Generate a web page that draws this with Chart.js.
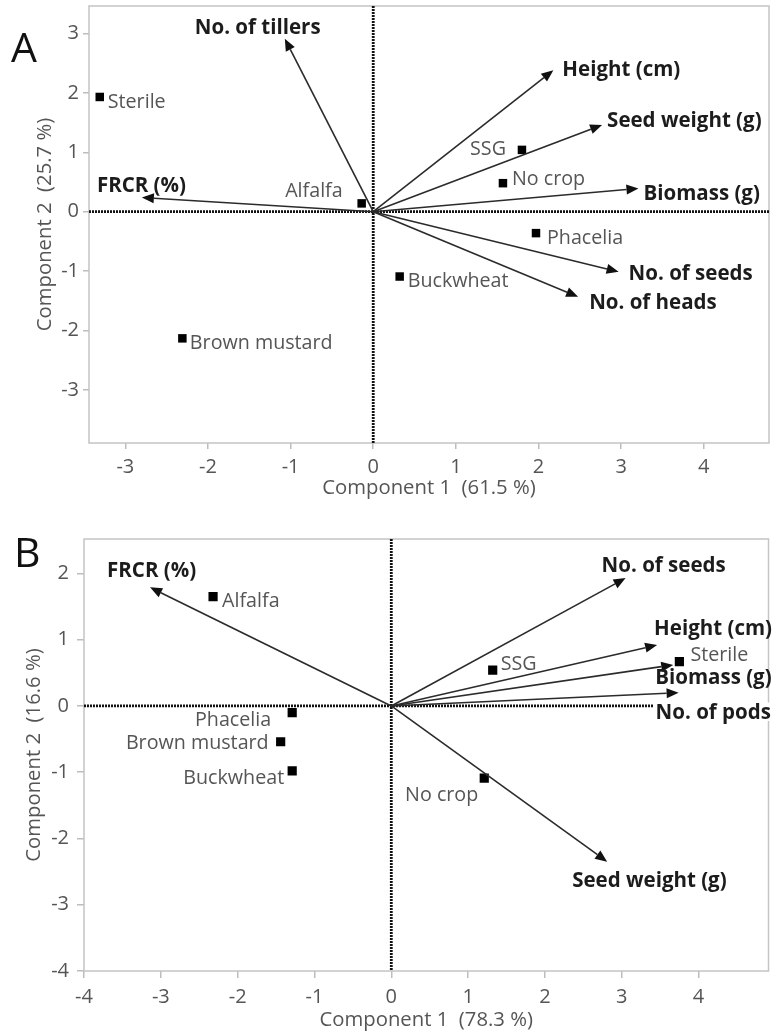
<!DOCTYPE html>
<html>
<head>
<meta charset="utf-8">
<script src="https://cdn.jsdelivr.net/npm/chart.js@4.4.1/dist/chart.umd.min.js"></script>
<style>
  html, body { margin: 0; padding: 0; background: #fff; }
  body { width: 775px; height: 1036px; position: relative; overflow: hidden; }
  .panel { position: absolute; left: 0; width: 775px; }
  #wrapA { top: 0; height: 515px; }
  #wrapB { top: 515px; height: 521px; }
  canvas { display: block; }
</style>
</head>
<body>
<div class="panel" id="wrapA"><canvas id="chartA" width="775" height="515"></canvas></div>
<div class="panel" id="wrapB"><canvas id="chartB" width="775" height="521"></canvas></div>
<script>
// ---- Panel A: cereal traits ----
const cropsA  = ['Sterile', 'Alfalfa', 'SSG', 'No crop', 'Phacelia', 'Buckwheat', 'Brown mustard'];
const pc1A    = [-3.31, -0.14, 1.80, 1.57, 1.97, 0.32, -2.31];
const pc2A    = [ 1.93,  0.14, 1.04, 0.48, -0.36, -1.09, -2.13];
const traitsA = ['No. of tillers', 'FRCR (%)', 'Height (cm)', 'Seed weight (g)', 'Biomass (g)', 'No. of seeds', 'No. of heads'];
const load1A  = [-1.07, -2.80, 2.18, 2.77, 3.21, 2.97, 2.48];
const load2A  = [ 2.91,  0.24, 2.38, 1.46, 0.39, -1.01, -1.43];
const xTicksA = [-3, -2, -1, 0, 1, 2, 3, 4];
const yTicksA = [-3, -2, -1, 0, 1, 2, 3];

// ---- Panel B: legume traits ----
const cropsB  = ['Alfalfa', 'Phacelia', 'Brown mustard', 'Buckwheat', 'SSG', 'Sterile', 'No crop'];
const pc1B    = [-2.32, -1.29, -1.44, -1.29, 1.32, 3.75, 1.21];
const pc2B    = [ 1.65, -0.10, -0.54, -0.98, 0.54, 0.67, -1.09];
const traitsB = ['FRCR (%)', 'No. of seeds', 'Height (cm)', 'Biomass (g)', 'No. of pods', 'Seed weight (g)'];
const load1B  = [-3.14, 3.05, 3.46, 3.67, 3.74, 2.81];
const load2B  = [ 1.79, 1.93, 0.92, 0.62, 0.20, -2.35];
const xTicksB = [-4, -3, -2, -1, 0, 1, 2, 3, 4];
const yTicksB = [-4, -3, -2, -1, 0, 1, 2];

// Label placement: [dx, dy, align] in pixels from the marker / arrow tip
const crpLabelPosA = [[8, 4, 'left'], [-19, -13, 'right'], [-16, -2, 'right'], [9, -5, 'left'], [11, 4, 'left'], [8, 3.5, 'left'], [7.5, 3.5, 'left']];
const trtLabelPosA = [[-90, -12, 'left'], [-45, -13, 'left'], [9, -2, 'left'], [5, -5, 'left'], [5, 4, 'left'], [10, 1, 'left'], [11, 5, 'left']];
const crpLabelPosB = [[9, 3, 'left'], [-21, 6, 'right'], [-12, 0, 'right'], [-8, 6, 'right'], [8, -7, 'left'], [11, -8, 'left'], [-6, 16, 'right']];
const trtLabelPosB = [[-43, -18, 'left'], [-24, -13, 'left'], [-3, -17, 'left'], [-18, 12, 'left'], [-23, 19, 'left'], [-35, 18, 'left']];

const FAMILY = "'Open Sans', 'Noto Sans', sans-serif";
const LABEL_SIZE = 19.7;
const BOLD_SIZE = 20.5;
const TICK_SIZE = 20;
const TITLE_SIZE = 20.3;

function drawArrow(ctx, x0, y0, x1, y1) {
  const a = Math.atan2(y1 - y0, x1 - x0);
  const L = 12, W = 5;
  const bx = x1 - L * Math.cos(a), by = y1 - L * Math.sin(a);
  ctx.beginPath();
  ctx.moveTo(x0, y0);
  ctx.lineTo(bx, by);
  ctx.stroke();
  ctx.beginPath();
  ctx.moveTo(x1, y1);
  ctx.lineTo(bx - W * Math.sin(a), by + W * Math.cos(a));
  ctx.lineTo(bx + W * Math.sin(a), by - W * Math.cos(a));
  ctx.closePath();
  ctx.fill();
}

function drawLabel(ctx, text, x, y, align, bold, zeroY, rightEdge) {
  const size = bold ? BOLD_SIZE : LABEL_SIZE;
  ctx.font = (bold ? 'bold ' : '') + size + 'px ' + FAMILY;
  ctx.textAlign = align;
  ctx.textBaseline = 'alphabetic';
  const base = y + size * 0.36;
  const w = ctx.measureText(text).width;
  const left = align === 'left' ? x : (align === 'right' ? x - w : x - w / 2);
  // keep the dotted zero line from running through a label
  if (zeroY > y - size * 0.38 && zeroY < y + size * 0.38) {
    const r = (rightEdge - (left + w) < 14) ? Math.max(rightEdge, left + w + 2) : left + w + 2;
    ctx.fillStyle = '#fff';
    ctx.fillRect(left - 2, y - size * 0.45, r - left + 2, size * 0.9);
  }
  ctx.fillStyle = bold ? '#1c1c1c' : '#555';
  ctx.fillText(text, x, base);
}

function makePanel(canvasId, p) {
  const pts = p.pc1.map((x, i) => ({ x: x, y: p.pc2[i] }));

  const biplot = {
    id: 'biplot',
    beforeDatasetsDraw(chart) {
      const { ctx, chartArea: ca, scales: { x, y } } = chart;
      ctx.save();
      // frame
      ctx.strokeStyle = '#c4c4c4';
      ctx.lineWidth = 1.5;
      ctx.strokeRect(ca.left, ca.top, ca.right - ca.left, ca.bottom - ca.top);
      // dotted zero lines
      const x0 = x.getPixelForValue(0), y0 = y.getPixelForValue(0);
      ctx.strokeStyle = '#111';
      ctx.lineWidth = 2.8;
      ctx.setLineDash([2, 1]);
      ctx.beginPath();
      ctx.moveTo(ca.left, y0); ctx.lineTo(ca.right, y0);
      ctx.moveTo(x0, ca.top); ctx.lineTo(x0, ca.bottom);
      ctx.stroke();
      ctx.restore();
    },
    afterDatasetsDraw(chart) {
      const { ctx, chartArea: ca, scales: { x, y } } = chart;
      const ox = x.getPixelForValue(0), oy = y.getPixelForValue(0);
      ctx.save();
      ctx.strokeStyle = '#2b2b2b';
      ctx.fillStyle = '#111';
      ctx.lineWidth = 1.6;
      p.load1.forEach((v, i) => {
        drawArrow(ctx, ox, oy, x.getPixelForValue(v), y.getPixelForValue(p.load2[i]));
      });
      p.traits.forEach((t, i) => {
        const [dx, dy, al] = p.trtPos[i];
        drawLabel(ctx, t, x.getPixelForValue(p.load1[i]) + dx, y.getPixelForValue(p.load2[i]) + dy, al, true, oy, ca.right);
      });
      p.crops.forEach((c, i) => {
        const [dx, dy, al] = p.crpPos[i];
        drawLabel(ctx, c, x.getPixelForValue(p.pc1[i]) + dx, y.getPixelForValue(p.pc2[i]) + dy, al, false, oy, ca.right);
      });
      // panel letter
      ctx.fillStyle = '#111';
      ctx.textAlign = 'left';
      ctx.textBaseline = 'alphabetic';
      ctx.font = '41px ' + FAMILY;
      ctx.fillText(p.tag, p.tagX, p.tagY);
      ctx.restore();
    }
  };

  return new Chart(document.getElementById(canvasId), {
    type: 'scatter',
    data: {
      datasets: [{
        data: pts,
        pointStyle: 'rect',
        pointRadius: p.markerR,
        pointHoverRadius: p.markerR,
        backgroundColor: '#000',
        borderColor: '#000',
        borderWidth: 0
      }]
    },
    options: {
      responsive: false,
      animation: false,
      devicePixelRatio: 1,
      events: [],
      layout: { padding: { top: p.padTop, right: p.padRight, bottom: 0, left: 0 } },
      plugins: { legend: { display: false }, tooltip: { enabled: false } },
      scales: {
        x: {
          type: 'linear',
          min: p.xMin, max: p.xMax,
          afterFit(s) { s.height = p.xAxisH; s.paddingLeft = 0; s.paddingRight = 0; },
          afterBuildTicks(s) { s.ticks = p.xTicks.map(v => ({ value: v })); },
          border: { display: false },
          grid: { drawOnChartArea: false, drawTicks: true, tickLength: p.tickLen, color: '#bdbdbd', lineWidth: 1.5 },
          ticks: { callback: v => String(v), font: { family: FAMILY, size: TICK_SIZE }, color: '#555', padding: p.xTickPad, maxRotation: 0 },
          title: { display: true, text: p.xTitle, font: { family: FAMILY, size: TITLE_SIZE }, color: '#555', padding: { top: 0, bottom: p.xTitlePad } }
        },
        y: {
          type: 'linear',
          min: p.yMin, max: p.yMax,
          afterFit(s) { s.width = p.yAxisW; s.paddingTop = 0; s.paddingBottom = 0; },
          afterBuildTicks(s) { s.ticks = p.yTicks.map(v => ({ value: v })); },
          border: { display: false },
          grid: { drawOnChartArea: false, drawTicks: true, tickLength: p.tickLen, color: '#bdbdbd', lineWidth: 1.5 },
          ticks: { callback: v => String(v), font: { family: FAMILY, size: TICK_SIZE }, color: '#555', padding: p.yTickPad },
          title: { display: true, text: p.yTitle, font: { family: FAMILY, size: TITLE_SIZE }, color: '#555', padding: { top: p.yTitlePad, bottom: 0 } }
        }
      }
    },
    plugins: [biplot]
  });
}

makePanel('chartA', {
  crops: cropsA, pc1: pc1A, pc2: pc2A, traits: traitsA, load1: load1A, load2: load2A,
  crpPos: crpLabelPosA, trtPos: trtLabelPosA,
  xTicks: xTicksA, yTicks: yTicksA,
  xMin: -3.44, xMax: 4.79, yMin: -3.89, yMax: 3.46,
  xTitle: 'Component 1  (61.5 %)', yTitle: 'Component 2  (25.7 %)',
  padTop: 6, padRight: 6, xAxisH: 72, yAxisW: 89,
  tickLen: 6, xTickPad: 6, yTickPad: 4, xTitlePad: 15, yTitlePad: 33,
  markerR: 6, tag: 'A', tagX: 11, tagY: 62
});

makePanel('chartB', {
  crops: cropsB, pc1: pc1B, pc2: pc2B, traits: traitsB, load1: load1B, load2: load2B,
  crpPos: crpLabelPosB, trtPos: trtLabelPosB,
  xTicks: xTicksB, yTicks: yTicksB,
  xMin: -4, xMax: 4.91, yMin: -4, yMax: 2.52,
  xTitle: 'Component 1  (78.3 %)', yTitle: 'Component 2  (16.6 %)',
  padTop: 24, padRight: 1, xAxisH: 65, yAxisW: 84,
  tickLen: 7, xTickPad: 7, yTickPad: 8, xTitlePad: 4, yTitlePad: 22,
  markerR: 6.5, tag: 'B', tagX: 14, tagY: 52
});
</script>
</body>
</html>
